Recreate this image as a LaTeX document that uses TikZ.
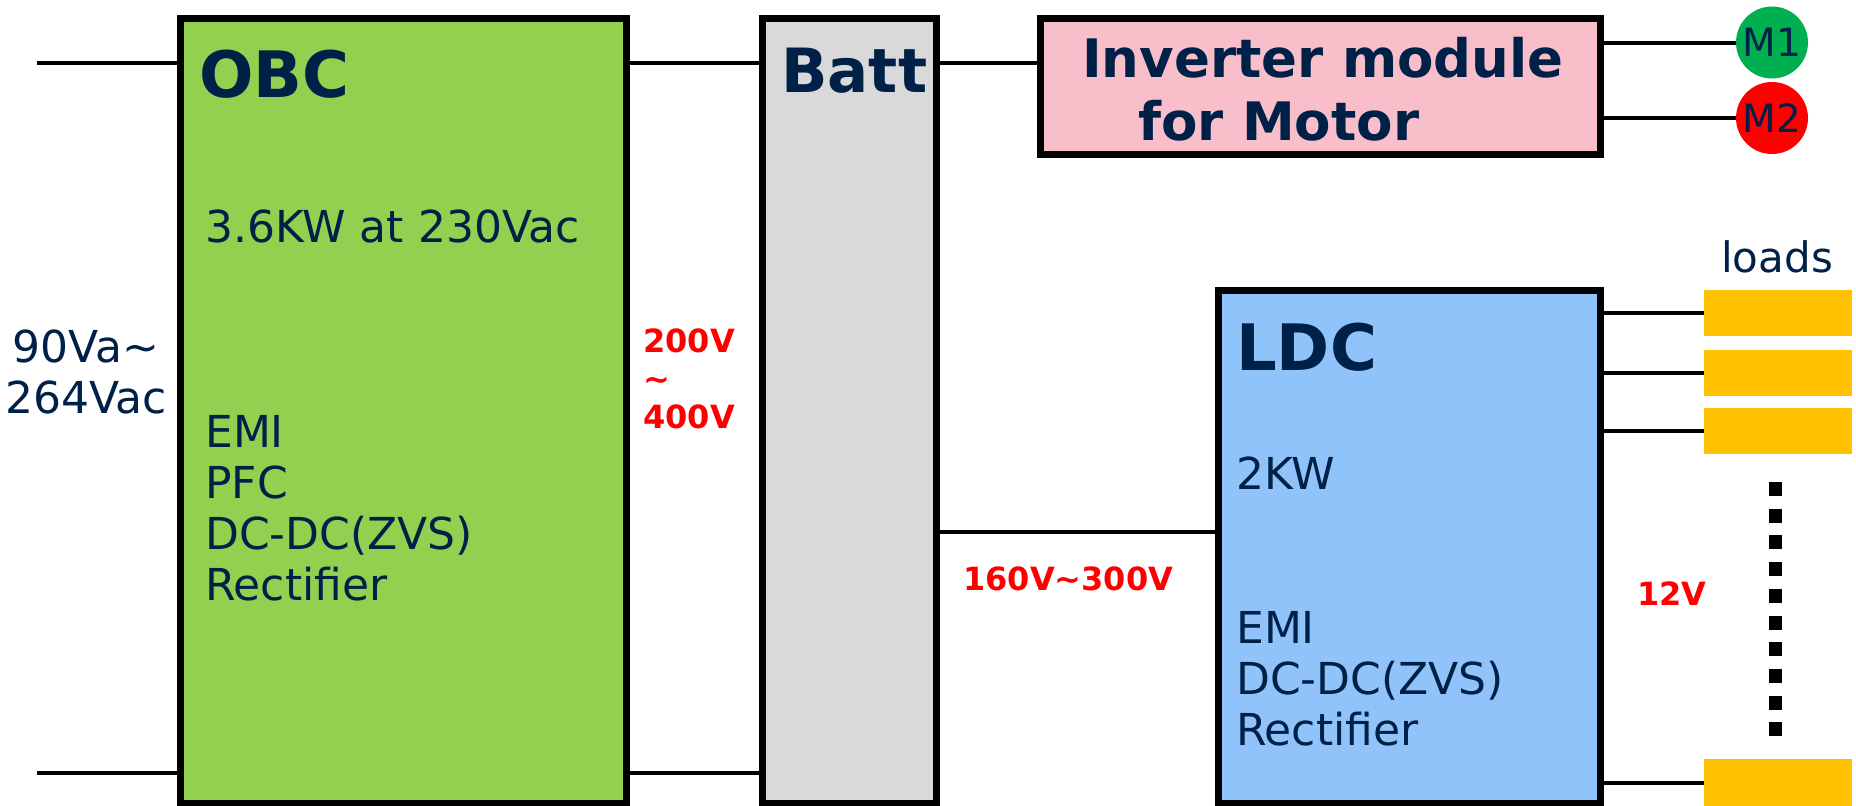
\documentclass[tikz,border=0pt]{standalone}
\usepackage{fontspec}
\setmainfont{DejaVu Sans}
\definecolor{navy}{RGB}{0,33,71}
\definecolor{obcgreen}{RGB}{146,208,80}
\definecolor{battgray}{RGB}{217,217,217}
\definecolor{invpink}{RGB}{248,191,203}
\definecolor{ldcblue}{RGB}{145,195,251}
\definecolor{loadorange}{RGB}{255,192,0}
\definecolor{mgreen}{RGB}{0,176,80}
\definecolor{mred}{RGB}{255,0,0}
\tikzset{
  blk/.style={draw=black, line width=7pt, rectangle, inner sep=0pt, outer sep=0pt},
  wire/.style={draw=black, line width=4pt},
  title/.style={font=\fontsize{64}{70}\selectfont\bfseries, text=navy, inner sep=0pt, anchor=base west},
  body/.style={font=\fontsize{44}{51}\selectfont, text=navy, inner sep=0pt, anchor=base west, align=left},
  volt/.style={font=\fontsize{32}{38}\selectfont\bfseries, text=mred, inner sep=0pt, anchor=base west, align=left},
  loadbox/.style={fill=loadorange, rectangle, inner sep=0pt, outer sep=0pt, minimum width=148pt},
  motor/.style={circle, inner sep=0pt, minimum size=72pt, font=\fontsize{39}{42}\selectfont, text=navy},
  dotsq/.style={fill=black, rectangle, inner sep=0pt, minimum width=13pt, minimum height=14pt}
}
\begin{document}
\begin{tikzpicture}[x=1pt,y=-1pt]
\useasboundingbox (0,0) rectangle (1856,806);
% blocks
\node[blk, fill=obcgreen, minimum width=445.5pt, minimum height=785pt] (obc) at (403.25,410.5) {};
\node[blk, fill=battgray, minimum width=174pt, minimum height=785pt] (batt) at (849.5,410.5) {};
\node[blk, fill=invpink, minimum width=560pt, minimum height=136pt] (inv) at (1320,86) {};
\node[blk, fill=ldcblue, minimum width=382pt, minimum height=513pt] (ldc) at (1409,546.5) {};
% motors
\node[motor, fill=mgreen] (m1) at (1772,42.5) {M1};
\node[motor, fill=mred] (m2) at (1772,118) {M2};
% loads
\node[loadbox, minimum height=46pt] (l1) at (1778,313) {};
\node[loadbox, minimum height=46pt] (l2) at (1778,373) {};
\node[loadbox, minimum height=46pt] (l3) at (1778,431) {};
\node[loadbox, minimum height=47pt] (l4) at (1778,782.5) {};
% dots
\foreach \i in {0,...,9} {
  \node[dotsq] (d\i) at (1775.5,{489+26.7*\i}) {};
}
% coordinates for wire levels
\coordinate (in1) at (37,63);
\coordinate (in2) at (37,773);
\coordinate (hv) at (1000,532);
% wires
\draw[wire] (in1) -- (in1 -| obc.west);
\draw[wire] (in2) -- (in2 -| obc.west);
\draw[wire] (obc.east |- in1) -- (batt.west |- in1);
\draw[wire] (obc.east |- in2) -- (batt.west |- in2);
\draw[wire] (batt.east |- in1) -- (inv.west |- in1);
\draw[wire] (batt.east |- hv) -- (ldc.west |- hv);
\draw[wire] (inv.east |- m1) -- (m1.west);
\draw[wire] (inv.east |- m2) -- (m2.west);
\draw[wire] (ldc.east |- l1) -- (l1.west);
\draw[wire] (ldc.east |- l2) -- (l2.west);
\draw[wire] (ldc.east |- l3) -- (l3.west);
\draw[wire] (ldc.east |- l4) -- (l4.west);
% texts (multi-line nodes: base anchor = last line's baseline)
\node[title] (tobc) at (199,97) {OBC};
\node[title, font=\fontsize{61}{70}\selectfont\bfseries] (tbatt) at (781,92) {Batt};
\node[title] (tldc) at (1236,370) {LDC};
\node[title, font=\fontsize{53}{63}\selectfont\bfseries] (tinv1) at (1082,77) {Inverter module};
\node[title, font=\fontsize{53}{63}\selectfont\bfseries] (tinv2) at (1138,140) {for Motor};
\node[body] (obcp) at (205,242) {3.6KW at 230Vac};
\node[body] (obcf) at (205,600) {EMI\\PFC\\DC-DC(ZVS)\\Rectifier};
\node[body, align=center, anchor=base] (vin) at (86,413) {90Va\char"007E\\264Vac};
\node[body] (ldcp) at (1236,489) {2KW};
\node[body] (ldcf) at (1236,745) {EMI\\DC-DC(ZVS)\\Rectifier};
\node[volt] (vbatt) at (643,428) {200V\\\char"007E\\400V};
\node[volt] (vldc) at (963,590) {160V\char"007E 300V};
\node[volt] (v12) at (1637,605) {12V};
\node[body, font=\fontsize{42}{48}\selectfont] (tloads) at (1721,272) {loads};
\end{tikzpicture}
\end{document}
